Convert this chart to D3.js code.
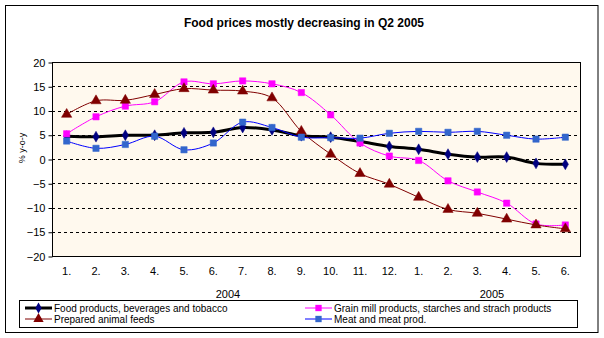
<!DOCTYPE html>
<html>
<head>
<meta charset="utf-8">
<script src="https://cdn.jsdelivr.net/npm/d3@7"></script>
<style>
body{margin:0;background:#fff;}
text{font-family:"Liberation Sans",Arial,sans-serif;}
</style>
</head>
<body>
<svg id="svg" width="604" height="338"></svg>
<script>
// months Jan 2004 .. Jun 2005
var months=["1.","2.","3.","4.","5.","6.","7.","8.","9.","10.","11.","12.","1.","2.","3.","4.","5.","6."];
var years=[{label:"2004",from:0,to:11},{label:"2005",from:12,to:17}];
var yTicks=[-20,-15,-10,-5,0,5,10,15,20];

var foodBev=[4.7,4.6,4.9,4.9,5.4,5.5,6.5,6.0,4.8,4.5,3.6,2.6,2.0,1.0,0.4,0.4,-0.9,-1.1];
var grainMill=[5.2,8.7,10.9,11.8,15.9,15.5,16.1,15.5,13.7,9.1,3.3,0.6,-0.3,-4.5,-6.8,-9.1,-13.4,-13.6];
var animalFeeds=[9.2,12.0,12.1,13.3,14.5,14.2,14.0,12.6,5.7,1.0,-3.0,-5.2,-7.9,-10.4,-11.2,-12.4,-13.6,-14.4];
var meat=[3.7,2.2,3.0,4.7,1.9,3.3,7.6,6.5,4.5,4.4,4.3,5.3,5.7,5.5,5.7,4.9,4.1,4.5];

var series=[
  {name:"Food products, beverages and tobacco",values:foodBev,line:"#000000",width:3,marker:"diamond",fill:"#000080",col:0,row:0},
  {name:"Grain mill products, starches and strach products",values:grainMill,line:"#FF00FF",width:1,marker:"square",fill:"#FF00FF",col:1,row:0},
  {name:"Prepared animal feeds",values:animalFeeds,line:"#800000",width:1,marker:"triangle",fill:"#800000",col:0,row:1},
  {name:"Meat and meat prod.",values:meat,line:"#0000FF",width:1,marker:"square",fill:"#3366CC",col:1,row:1}
];

function init(){
  var svg=d3.select("#svg");
  var left=52,right=580,top=62,bottom=256;

  // outer chart frame
  svg.append("rect").attr("x",5.5).attr("y",5.5).attr("width",592.5).attr("height",327)
    .style("fill","#fff").style("stroke","#000").style("stroke-width",1);

  svg.append("text").text("Food prices mostly decreasing in Q2 2005")
    .attr("x",304).attr("y",27).attr("text-anchor","middle")
    .attr("font-size","12px").attr("font-weight","bold");

  var x=d3.scaleBand().domain(d3.range(months.length)).range([left,right]);
  var y=d3.scaleLinear().domain([-20,20]).range([bottom,top]);

  svg.append("rect").attr("x",left).attr("y",top).attr("width",right-left).attr("height",bottom-top)
    .style("fill","#FFF9EE");

  // dashed gridlines
  svg.append("g").selectAll("line").data(yTicks.filter(function(d){return d>-20&&d<20;}))
    .enter().append("line")
    .attr("x1",left).attr("x2",right)
    .attr("y1",function(d){return Math.round(y(d))+0.5;})
    .attr("y2",function(d){return Math.round(y(d))+0.5;})
    .style("stroke","#000").style("stroke-dasharray","3,3");

  svg.append("rect").attr("x",left+0.5).attr("y",top+0.5).attr("width",right-left).attr("height",bottom-top)
    .style("fill","none").style("stroke","#000").style("stroke-width",1);

  var yAxis=svg.append("g").attr("transform","translate("+(left+0.5)+",0.5)")
    .call(d3.axisLeft(y).tickValues(yTicks).tickSize(4).tickPadding(3));
  yAxis.select(".domain").remove();
  yAxis.selectAll("text").attr("font-size","11px").style("font-family","Liberation Sans,Arial,sans-serif");

  var xAxis=svg.append("g").attr("transform","translate(0,"+(bottom+0.5)+")")
    .call(d3.axisBottom(x).tickFormat(function(i){return months[i];}).tickSize(0).tickPadding(11));
  xAxis.select(".domain").remove();
  xAxis.selectAll("text").attr("font-size","11px").style("font-family","Liberation Sans,Arial,sans-serif");

  svg.selectAll(".year").data(years).enter().append("text").attr("class","year")
    .text(function(d){return d.label;})
    .attr("x",function(d){return (x(d.from)+x(d.to)+x.bandwidth())/2;})
    .attr("y",298).attr("text-anchor","middle").attr("font-size","11px");

  svg.append("text").text("% y-o-y")
    .attr("transform","translate(25,148) rotate(-90)")
    .attr("text-anchor","middle").attr("font-size","9px");

  var cx=function(d,i){return x(i)+x.bandwidth()/2;};
  var line=d3.line().x(cx).y(function(d){return y(d);}).curve(d3.curveCatmullRom.alpha(0.5));

  var symbols={diamond:d3.symbolDiamond,square:d3.symbolSquare,triangle:d3.symbolTriangle};
  var sizes={diamond:34,square:40,triangle:46};

  series.forEach(function(s){
    svg.append("path").datum(s.values).attr("d",line)
      .style("fill","none").style("stroke",s.line).style("stroke-width",s.width);
    svg.append("g").selectAll("path").data(s.values).enter().append("path")
      .attr("d",d3.symbol().type(symbols[s.marker]).size(sizes[s.marker]))
      .attr("transform",function(d,i){return "translate("+cx(d,i)+","+y(d)+")";})
      .style("fill",s.fill).style("stroke",s.fill).style("stroke-width",0.5);
  });

  // legend
  var lg=svg.append("g");
  lg.append("rect").attr("x",19.5).attr("y",300.5).attr("width",558).attr("height",27)
    .style("fill","#fff").style("stroke","#000");
  var item=lg.selectAll(".item").data(series).enter().append("g").attr("class","item")
    .attr("transform",function(d){return "translate("+(d.col?305:25)+","+(d.row?319:308)+")";});
  item.append("line").attr("x1",0).attr("x2",27).attr("y1",0).attr("y2",0)
    .style("stroke",function(d){return d.line;}).style("stroke-width",function(d){return d.width;});
  item.append("path")
    .attr("d",function(d){return d3.symbol().type(symbols[d.marker]).size(sizes[d.marker])();})
    .attr("transform","translate(13.5,0)")
    .style("fill",function(d){return d.fill;});
  item.append("text").text(function(d){return d.name;})
    .attr("x",29).attr("y",3.5).attr("font-size","10px");
}
init();
</script>
</body>
</html>
